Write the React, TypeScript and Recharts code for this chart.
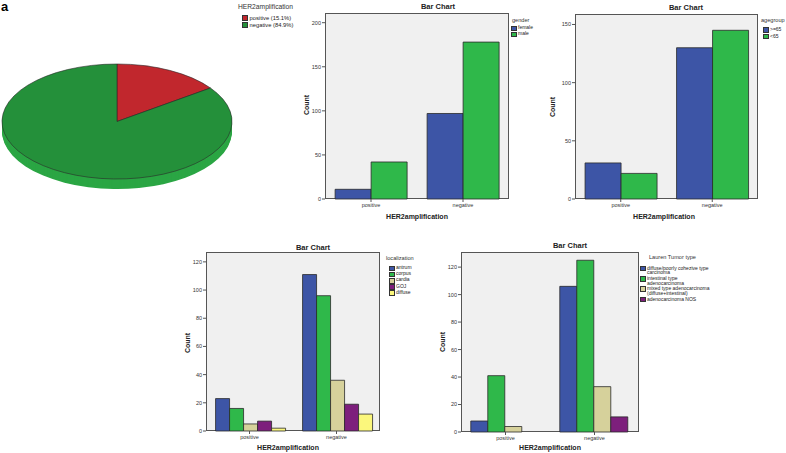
import React from 'react';
import { BarChart, Bar, XAxis, YAxis, PieChart, Pie, Cell } from 'recharts';

// HER2 categories shared by every bar chart
const her2Categories = ['positive', 'negative'];
const her2Percent = [15.1, 84.9];

const genderNames = ['female', 'male'];
const genderFemale = [11, 97];
const genderMale = [42, 178];

const ageNames = ['>=65', '<65'];
const ageOver65 = [31, 130];
const ageUnder65 = [22, 145];

const locNames = ['antrum', 'corpus', 'cardia', 'GOJ', 'diffuse'];
const locAntrum = [23, 111];
const locCorpus = [16, 96];
const locCardia = [5, 36];
const locGOJ = [7, 19];
const locDiffuse = [2, 12];

const laurenNames = [
  'diffuse/poorly cohezive type\ncarcinoma',
  'intestinal type\nadenocarcinoma',
  'mixed type adenocarcinoma\n(diffuse+intestinal)',
  'adenocarcinoma NOS',
];
const laurenDiffuse = [8, 106];
const laurenIntestinal = [41, 125];
const laurenMixed = [4, 33];
const laurenNOS = [0, 11];

const BLUE = '#3d55a6';
const GREEN = '#2fb84a';
const TAN = '#d6d19b';
const PURPLE = '#7d1f7c';
const YELLOW = '#fbf77c';
const RED = '#c1272d';
const PIE_GREEN = '#24903a';
const PIE_SIDE = '#2ba644';

const FONT = '"Liberation Sans", Arial, sans-serif';

const buildRows = (series: number[][]) =>
  her2Categories.map((cat, i) => {
    const row: Record<string, string | number> = { cat };
    series.forEach((s, k) => { row['s' + k] = s[i]; });
    return row;
  });

type Rect = { l: number; t: number; r: number; b: number };
type Pt = { x: number; y: number };
type LegendCfg = { title: string; left: number; titleY: number; markerLeft: number; top: number; lineH: number; gap: number };

interface PanelProps {
  series: number[][];
  names: string[];
  colors: string[];
  yMax: number;
  yTicks: number[];
  plot: Rect;
  title: Pt;
  countPos: Pt;
  xTitle: Pt;
  legend: LegendCfg;
}

const abs = (x: number, y: number): React.CSSProperties => ({ position: 'absolute', left: x, top: y });

const CenterText = ({ x, y, text, size, bold, rotate }: { x: number; y: number; text: string; size: number; bold?: boolean; rotate?: boolean }) => (
  <div
    style={{
      ...abs(x, y),
      transform: `translate(-50%, -50%)${rotate ? ' rotate(-90deg)' : ''}`,
      fontSize: size,
      fontWeight: bold ? 700 : 400,
      whiteSpace: 'nowrap',
      lineHeight: 1,
      color: '#222',
    }}
  >
    {text}
  </div>
);

const Legend = ({ cfg, names, colors, titleSize, itemSize }: { cfg: LegendCfg; names: string[]; colors: string[]; titleSize: number; itemSize: number }) => (
  <>
    <div style={{ ...abs(cfg.left, cfg.titleY), transform: 'translateY(-50%)', fontSize: titleSize, lineHeight: 1, color: '#333', whiteSpace: 'nowrap' }}>
      {cfg.title}
    </div>
    <div style={{ ...abs(cfg.markerLeft, cfg.top), display: 'flex', flexDirection: 'column', gap: cfg.gap }}>
      {names.map((n, i) => (
        <div key={n} style={{ display: 'flex', alignItems: 'flex-start' }}>
          <div
            style={{
              width: 3.5,
              height: 3.5,
              marginTop: (cfg.lineH - 4.5) / 2,
              marginRight: 1.5,
              background: colors[i],
              border: '0.5px solid #333',
              flex: 'none',
            }}
          />
          <div style={{ fontSize: itemSize, lineHeight: cfg.lineH + 'px', color: '#222', whiteSpace: 'pre' }}>{n}</div>
        </div>
      ))}
    </div>
  </>
);

const BarPanel = ({ series, names, colors, yMax, yTicks, plot, title, countPos, xTitle, legend }: PanelProps) => {
  const yW = 30;
  const xH = 20;
  const w = plot.r - plot.l + yW;
  const h = plot.b - plot.t + xH;
  const rows = buildRows(series);
  return (
    <>
      <div
        style={{
          ...abs(plot.l, plot.t),
          width: plot.r - plot.l,
          height: plot.b - plot.t,
          boxSizing: 'border-box',
          background: '#f0f0f0',
          border: '1px solid #555',
        }}
      />
      <div style={abs(plot.l - yW, plot.t)}>
        <BarChart width={w} height={h} data={rows} margin={{ top: 0, right: 0, bottom: 0, left: 0 }} barCategoryGap="11%" barGap={0}>
          <XAxis
            dataKey="cat"
            height={xH}
            axisLine={false}
            tickSize={3}
            tickMargin={1}
            tickLine={{ stroke: '#555' }}
            tick={{ fontSize: 5.5, fill: '#333', fontFamily: FONT }}
          />
          <YAxis
            type="number"
            domain={[0, yMax]}
            ticks={yTicks}
            width={yW}
            axisLine={false}
            tickSize={3}
            tickMargin={1}
            tickLine={{ stroke: '#555' }}
            tick={{ fontSize: 5.5, fill: '#333', fontFamily: FONT }}
          />
          {series.map((_, k) => (
            <Bar
              key={names[k]}
              dataKey={'s' + k}
              name={names[k]}
              fill={colors[k]}
              stroke="#2a2a2a"
              strokeWidth={0.8}
              isAnimationActive={false}
            />
          ))}
        </BarChart>
      </div>
      <CenterText x={title.x} y={title.y} text="Bar Chart" size={7.5} bold />
      <CenterText x={countPos.x} y={countPos.y} text="Count" size={7} bold rotate />
      <CenterText x={xTitle.x} y={xTitle.y} text="HER2amplification" size={7} bold />
      <Legend cfg={legend} names={names} colors={colors} titleSize={5.6} itemSize={5} />
    </>
  );
};

const HerPie = () => {
  const pieData = her2Categories.map((c, i) => ({ name: c, value: her2Percent[i] }));
  const sideOffsets = [20, 18, 16, 14, 12, 10, 8, 6, 4, 2];
  return (
    <>
      <div style={{ ...abs(0, 62.5), transform: 'scaleY(0.5)', transformOrigin: 'top left' }}>
        <PieChart width={234} height={254} margin={{ top: 0, right: 0, bottom: 0, left: 0 }}>
          {sideOffsets.map((o) => (
            <Pie
              key={o}
              data={pieData}
              dataKey="value"
              cx={117}
              cy={117 + o}
              outerRadius={115}
              startAngle={90}
              endAngle={-270}
              stroke="none"
              isAnimationActive={false}
            >
              {pieData.map((d) => (
                <Cell key={d.name} fill={PIE_SIDE} />
              ))}
            </Pie>
          ))}
          <Pie
            data={pieData}
            dataKey="value"
            cx={117}
            cy={117}
            outerRadius={115}
            startAngle={90}
            endAngle={-270}
            stroke="#2a2a2a"
            strokeWidth={0.8}
            isAnimationActive={false}
          >
            {pieData.map((d, i) => (
              <Cell key={d.name} fill={i === 0 ? RED : PIE_GREEN} />
            ))}
          </Pie>
        </PieChart>
      </div>
      <div style={{ ...abs(238, 7), transform: 'translateY(-50%)', fontSize: 6.7, lineHeight: 1, color: '#333', whiteSpace: 'nowrap' }}>
        HER2amplification
      </div>
      <div style={{ ...abs(242, 14.5), display: 'flex', flexDirection: 'column', gap: 1.5 }}>
        {pieData.map((d, i) => (
          <div key={d.name} style={{ display: 'flex', alignItems: 'center', height: 6 }}>
            <div style={{ width: 4, height: 4, marginRight: 1.5, background: i === 0 ? RED : PIE_GREEN, border: '0.5px solid #333' }} />
            <div style={{ fontSize: 5.8, lineHeight: '6px', color: '#222', whiteSpace: 'nowrap' }}>
              {`${d.name} (${d.value}%)`}
            </div>
          </div>
        ))}
      </div>
    </>
  );
};

export default function App() {
  return (
    <div style={{ position: 'absolute', left: 0, top: 0, width: 786, height: 453, background: '#fff', fontFamily: FONT, overflow: 'hidden' }}>
      <div style={{ ...abs(1, 0), fontSize: 13, fontWeight: 900, lineHeight: '13px', color: '#000' }}>a</div>
      <HerPie />
      <BarPanel
        series={[genderFemale, genderMale]}
        names={genderNames}
        colors={[BLUE, GREEN]}
        yMax={211}
        yTicks={[0, 50, 100, 150, 200]}
        plot={{ l: 325, t: 13, r: 509, b: 199 }}
        title={{ x: 438, y: 7 }}
        countPos={{ x: 306, y: 105 }}
        xTitle={{ x: 417, y: 216 }}
        legend={{ title: 'gender', left: 512, titleY: 20.5, markerLeft: 511, top: 25.3, lineH: 5.5, gap: 0 }}
      />
      <BarPanel
        series={[ageOver65, ageUnder65]}
        names={ageNames}
        colors={[BLUE, GREEN]}
        yMax={159}
        yTicks={[0, 50, 100, 150]}
        plot={{ l: 575, t: 14, r: 758, b: 199 }}
        title={{ x: 686, y: 8 }}
        countPos={{ x: 552, y: 107 }}
        xTitle={{ x: 664, y: 216 }}
        legend={{ title: 'agegroup', left: 761, titleY: 21, markerLeft: 763, top: 26.3, lineH: 6.5, gap: 0 }}
      />
      <BarPanel
        series={[locAntrum, locCorpus, locCardia, locGOJ, locDiffuse]}
        names={locNames}
        colors={[BLUE, GREEN, TAN, PURPLE, YELLOW]}
        yMax={127}
        yTicks={[0, 20, 40, 60, 80, 100, 120]}
        plot={{ l: 206, t: 252, r: 380, b: 431 }}
        title={{ x: 313, y: 248 }}
        countPos={{ x: 187, y: 343 }}
        xTitle={{ x: 288, y: 447 }}
        legend={{ title: 'localization', left: 386, titleY: 259, markerLeft: 389, top: 265.1, lineH: 5.8, gap: 0 }}
      />
      <BarPanel
        series={[laurenDiffuse, laurenIntestinal, laurenMixed, laurenNOS]}
        names={laurenNames}
        colors={[BLUE, GREEN, TAN, PURPLE]}
        yMax={131}
        yTicks={[0, 20, 40, 60, 80, 100, 120]}
        plot={{ l: 461, t: 252, r: 639, b: 432 }}
        title={{ x: 570, y: 246 }}
        countPos={{ x: 442, y: 342 }}
        xTitle={{ x: 550, y: 447 }}
        legend={{ title: 'Lauren Tumor type', left: 649, titleY: 258, markerLeft: 640, top: 265.7, lineH: 4.6, gap: 1.2 }}
      />
    </div>
  );
}
